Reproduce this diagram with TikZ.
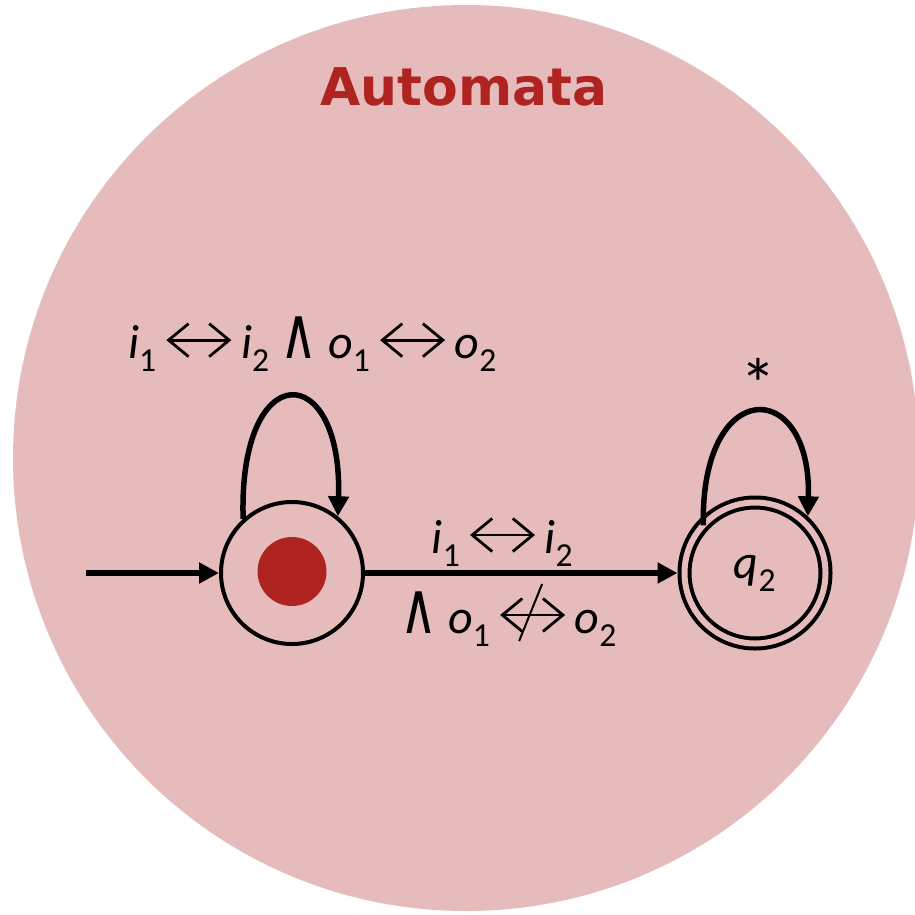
\documentclass[tikz,border=0pt]{standalone}
\usepackage{fontspec}
\setmainfont{Carlito}
\newfontfamily\symf{DejaVu Sans}
\newfontfamily\headf{DejaVu Sans}
\usetikzlibrary{positioning,calc,arrows.meta}

\definecolor{bgpink}{RGB}{229,188,187}
\definecolor{darkred}{RGB}{175,35,32}

% variable with subscript, double arrows and the "and" sign
\newcommand{\sv}[2]{\textit{#1}\textsubscript{#2}}
\tikzset{barbs/.style={-, line width=2.8pt, {Straight Barb[length=20pt,width=33pt]}-{Straight Barb[length=20pt,width=33pt]}}}
\newcommand{\biarr}{\,\tikz[baseline=-18pt]\draw[barbs] (0pt,0pt) -- (65pt,0pt);\,}
\newcommand{\nbiarr}{\,\tikz[baseline=-18pt]{\draw[barbs] (0pt,0pt) -- (65pt,0pt);
  \draw[-, line width=2pt] (42pt,31pt) -- (19pt,-26pt);}\,}
\newcommand{\andsym}{{\symf\scalebox{1.05}[1.5]{∧}}}

\begin{document}
\begin{tikzpicture}[
  x=1pt, y=-1pt,
  font=\fontsize{48}{56}\selectfont,
  state/.style={
    draw,
    circle,
    line width=4pt,
    minimum size=142pt,
    inner sep=0pt
  },
  accept/.style={state, double=bgpink, double distance=6pt, minimum size=141pt, outer sep=7pt},
  trans/.style={line width=6pt, -{Triangle[length=20pt,width=20pt]}},
  loopedge/.style={line width=5.5pt, -{Triangle[length=20pt,width=20pt]}},
  lbl/.style={inner sep=0pt, outer sep=0pt, anchor=base}
]

% --- background disc ---
\clip (0,0) rectangle (915,914);
\fill[bgpink] (466,458) circle (453pt);

% --- title ---
\node[lbl, font=\headf\bfseries\fontsize{52}{60}\selectfont, text=darkred] (title) at (464,105) {Automata};

% --- states ---
\node[state] (q1) at (292,573) {\sv{q}{1}};
\node[accept] (q2) at (755,573) {\sv{q}{2}};
\fill[darkred] (q1.center) ++(0,-1.5) circle (34.5pt);   % start marker over q1

% --- initial arrow ---
\coordinate (init) at (86,573);
\draw[trans] (init) -- (q1);

% --- transitions ---
\draw[trans] (q1) -- (q2)
  node[lbl, pos=0.44, yshift=20pt] (t12a) {\sv{i}{1}\biarr\sv{i}{2}}
  node[lbl, pos=0.46, yshift=-60pt] (t12b) {\andsym\ \sv{o}{1}\nbiarr\sv{o}{2}};

% self loops
\draw[loopedge] (q1.132) .. controls +(-5,-163) and +(5,-158) .. (q1.51)
  node[lbl, pos=0.5, xshift=22pt, yshift=39pt] (l11) {\sv{i}{1}\biarr\sv{i}{2} \andsym\ \sv{o}{1}\biarr\sv{o}{2}};
\draw[loopedge, shorten <=-10pt] (q2.132) .. controls +(-3,-140) and +(4,-140) .. (q2.47)
  node[inner sep=0pt, anchor=north, pos=0.5, xshift=3pt, yshift=55pt, font=\fontsize{72}{80}\selectfont] (l22) {*};

\end{tikzpicture}
\end{document}
